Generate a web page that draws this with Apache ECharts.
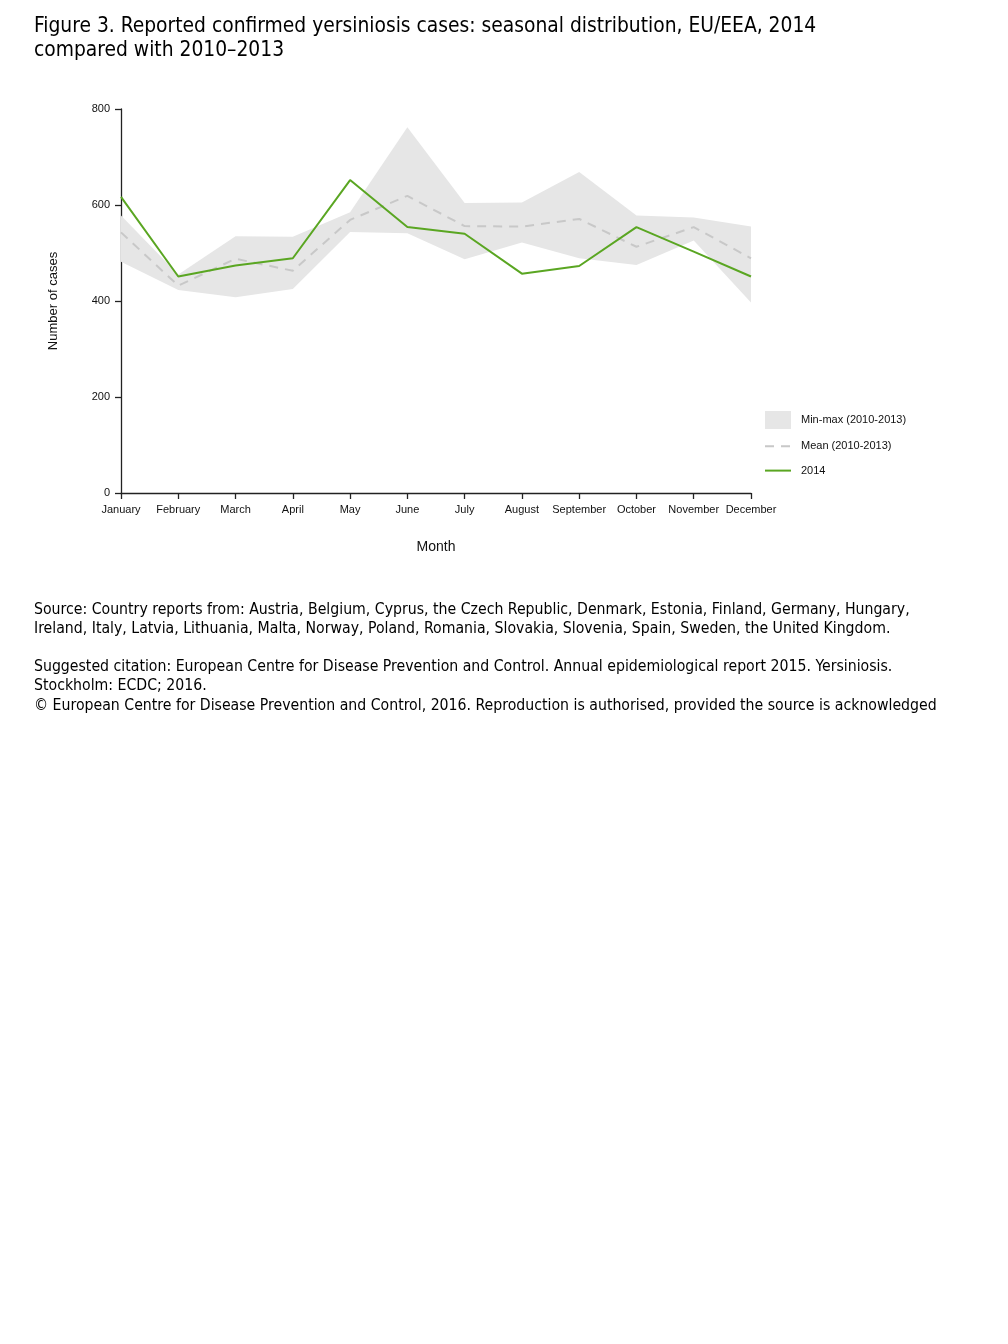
<!DOCTYPE html>
<html>
<head>
<meta charset="utf-8">
<script src="https://cdn.jsdelivr.net/npm/echarts@6/dist/echarts.min.js"></script>
<style>
html,body{margin:0;padding:0;background:#fff;}
#chart{width:1008px;height:1344px;}
</style>
</head>
<body>
<div id="chart"></div>
<script>
const months = ['January','February','March','April','May','June','July','August','September','October','November','December'];
const minValues = [482, 423, 408, 425, 544, 541, 487, 522, 489, 475, 526, 397];
const maxValues = [578, 455, 535, 534, 585, 762, 604, 605, 669, 578, 574, 555];
const meanValues = [543, 432, 488, 463, 569, 619, 556, 555, 571, 513, 554, 489];
const values2014 = [617, 451, 474, 489, 652, 554, 540, 457, 473, 554, 503, 451];
const yTicks = [0, 200, 400, 600, 800];

const bandHeights = maxValues.map((v, i) => v - minValues[i]);

const chart = echarts.init(document.getElementById('chart'), null, {renderer: 'canvas'});
const txtFont = 'DejaVu Sans Condensed, DejaVu Sans, sans-serif';
const axisFont = 'Liberation Sans, Arial, sans-serif';

chart.setOption({
  animation: false,
  backgroundColor: '#fff',
  grid: {left: 121, right: 257, top: 109, bottom: 851, containLabel: false},
  xAxis: {
    type: 'category',
    data: months,
    boundaryGap: false,
    name: 'Month',
    nameLocation: 'middle',
    nameGap: 47,
    nameTextStyle: {fontFamily: axisFont, fontSize: 14, color: '#111'},
    axisLine: {show: true, lineStyle: {color: '#222', width: 1.3}},
    axisTick: {show: true, length: 6, lineStyle: {color: '#222', width: 1.3}, alignWithLabel: true},
    axisLabel: {fontFamily: axisFont, fontSize: 11, color: '#111', margin: 11, interval: 0},
    splitLine: {show: false}
  },
  yAxis: {
    type: 'value',
    min: yTicks[0],
    max: yTicks[yTicks.length - 1],
    interval: 200,
    name: 'Number of cases',
    nameLocation: 'middle',
    nameGap: 61,
    nameRotate: 90,
    nameTextStyle: {fontFamily: axisFont, fontSize: 13, color: '#111'},
    axisLine: {show: true, lineStyle: {color: '#222', width: 1.3}},
    axisTick: {show: true, length: 6, lineStyle: {color: '#222', width: 1.3}},
    axisLabel: {fontFamily: axisFont, fontSize: 11, color: '#111', margin: 11},
    splitLine: {show: false}
  },
  legend: {
    orient: 'vertical',
    left: 759,
    top: 406,
    itemWidth: 26,
    itemHeight: 18,
    itemGap: 10,
    textStyle: {fontFamily: axisFont, fontSize: 11, color: '#111', padding: [0, 0, 0, 5]},
    data: [
      {name: 'Min-max (2010-2013)', icon: 'rect', itemStyle: {color: '#e6e6e6'}},
      {name: 'Mean (2010-2013)', itemStyle: {opacity: 0}, lineStyle: {color: '#c8c8c8', width: 2, type: [9, 7]}},
      {name: '2014', itemStyle: {opacity: 0}, lineStyle: {color: '#5aa622', width: 2}}
    ]
  },
  series: [
    {
      name: 'min',
      type: 'line',
      stack: 'band',
      data: minValues,
      symbol: 'none',
      lineStyle: {opacity: 0},
      silent: true
    },
    {
      name: 'Min-max (2010-2013)',
      type: 'line',
      stack: 'band',
      data: bandHeights,
      symbol: 'none',
      lineStyle: {opacity: 0, width: 0},
      itemStyle: {color: '#e6e6e6'},
      areaStyle: {color: '#e6e6e6', opacity: 1},
      silent: true
    },
    {
      name: 'Mean (2010-2013)',
      type: 'line',
      data: meanValues,
      symbol: 'none',
      itemStyle: {color: '#c8c8c8'},
      lineStyle: {color: '#c8c8c8', width: 2, type: [9, 7]}
    },
    {
      name: '2014',
      type: 'line',
      data: values2014,
      symbol: 'none',
      itemStyle: {color: '#5aa622'},
      lineStyle: {color: '#5aa622', width: 2}
    }
  ],
  graphic: [
    {type: 'text', left: 34, top: 15, style: {text: 'Figure 3. Reported confirmed yersiniosis cases: seasonal distribution, EU/EEA, 2014\ncompared with 2010\u20132013', font: '20.8px ' + txtFont, fill: '#000', lineHeight: 24}},
    {type: 'text', left: 34, top: 600, style: {text: 'Source: Country reports from: Austria, Belgium, Cyprus, the Czech Republic, Denmark, Estonia, Finland, Germany, Hungary,\nIreland, Italy, Latvia, Lithuania, Malta, Norway, Poland, Romania, Slovakia, Slovenia, Spain, Sweden, the United Kingdom.', font: '15.7px ' + txtFont, fill: '#000', lineHeight: 19.5}},
    {type: 'text', left: 34, top: 657, style: {text: 'Suggested citation: European Centre for Disease Prevention and Control. Annual epidemiological report 2015. Yersiniosis.\nStockholm: ECDC; 2016.\n\u00A9 European Centre for Disease Prevention and Control, 2016. Reproduction is authorised, provided the source is acknowledged', font: '15.7px ' + txtFont, fill: '#000', lineHeight: 19.5}}
  ]
});
</script>
</body>
</html>
